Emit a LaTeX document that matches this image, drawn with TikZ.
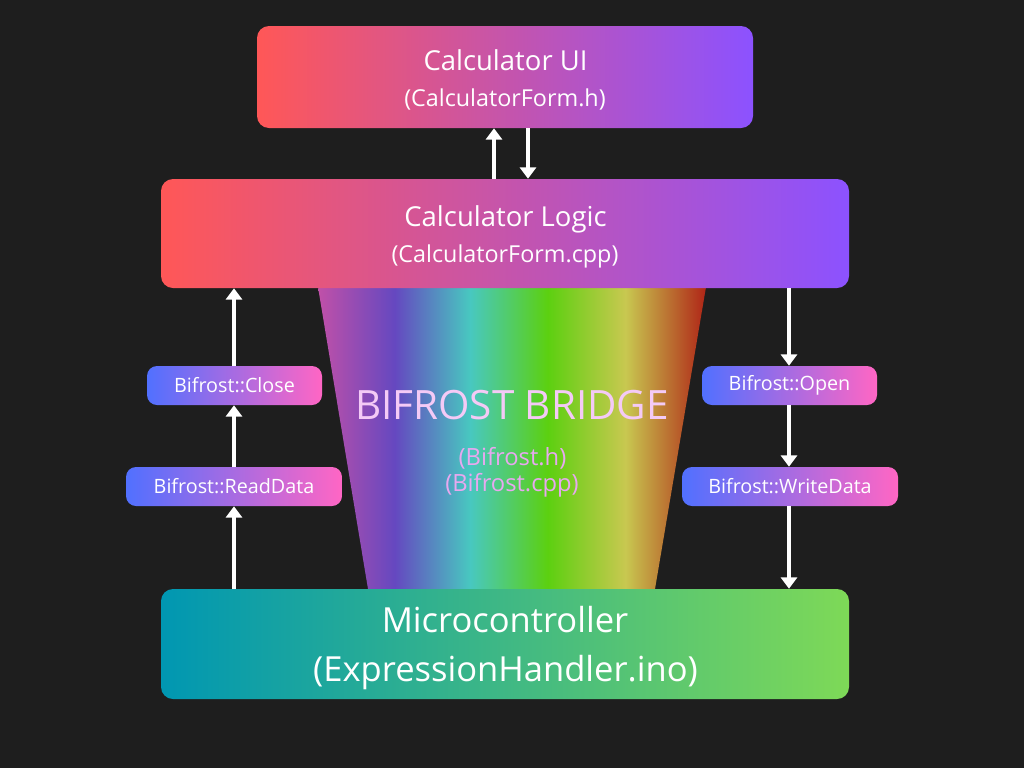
\documentclass[tikz,border=0pt]{standalone}
\usepackage{fontspec}
\setmainfont{Open Sans}
\usetikzlibrary{arrows.meta,calc}
\definecolor{bg}{HTML}{1E1E1E}
\definecolor{uiL}{HTML}{FF5757}
\definecolor{uiR}{HTML}{8C52FF}
\definecolor{sL}{HTML}{5170FF}
\definecolor{sR}{HTML}{FF66C4}
\definecolor{mL}{HTML}{0097B2}
\definecolor{mR}{HTML}{7ED957}
\definecolor{rbA}{HTML}{C050A8}
\definecolor{rbB}{HTML}{6548C0}
\definecolor{rbC}{HTML}{48C8C0}
\definecolor{rbD}{HTML}{5CD010}
\definecolor{rbE}{HTML}{C8C850}
\definecolor{rbF}{HTML}{B02818}
\definecolor{bifTitle}{HTML}{F4CAF6}
\definecolor{bifSub}{HTML}{E8A8F0}
\pgfdeclarehorizontalshading{rainbow}{100bp}{color(0bp)=(rbA); color(25bp)=(rbA); color(34.9bp)=(rbB); color(44.6bp)=(rbC); color(54.6bp)=(rbD); color(64.6bp)=(rbE); color(74.8bp)=(rbF); color(100bp)=(rbF)}
\tikzset{
  bigbox/.style={rounded corners=9pt, inner sep=0pt, draw=none},
  redbox/.style={bigbox, left color=uiL, right color=uiR},
  greenbox/.style={bigbox, left color=mL, right color=mR},
  callbox/.style={rounded corners=7.5pt, inner sep=0pt, draw=none, left color=sL, right color=sR,
    minimum height=29.25pt, text=white, font=\fontsize{14.8}{17}\selectfont},
  titletxt/.style={anchor=base, text=white, inner sep=0pt, font=\fontsize{20.6}{24}\selectfont},
  subtxt/.style={anchor=base, text=white, inner sep=0pt, font=\fontsize{17.5}{21}\selectfont},
  microtxt/.style={anchor=base, text=white, inner sep=0pt, font=\fontsize{25.9}{30}\selectfont},
  arr/.style={draw=white, line width=2.6pt, -{Triangle[width=12pt,length=8.5pt]}},
  bigtxt/.style={anchor=base, inner sep=0pt, font=\fontsize{30.3}{36}\selectfont},
  bsub/.style={anchor=base, inner sep=0pt, text=bifSub, font=\fontsize{17.8}{21}\selectfont},
}
\begin{document}
\begin{tikzpicture}[x=0.75pt, y=-0.75pt]
\fill[bg] (0,0) rectangle (1024,768);
\useasboundingbox (0,0) rectangle (1024,768);
% bridge
\shade[shading=rainbow] (318,287) -- (706,287) -- (655,589) -- (368,589) -- cycle;
% boxes
\node[redbox, minimum width=372pt, minimum height=76.5pt] (ui) at (505,77) {};
\node[redbox, minimum width=516pt, minimum height=81.75pt] (logic) at (505,233.5) {};
\node[greenbox, minimum width=516pt, minimum height=82.5pt] (micro) at (505,644) {};
\node[titletxt] (uiT) at (505.5,70.7) {Calculator UI};
\node[subtxt] (uiS) at (505,106) {(CalculatorForm.h)};
\node[titletxt] (logicT) at (505.5,226.7) {Calculator Logic};
\node[subtxt] (logicS) at (505,262) {(CalculatorForm.cpp)};
\node[microtxt] (microT) at (505,632) {Microcontroller};
\node[microtxt] (microS) at (505.5,681) {(ExpressionHandler.ino)};
% bridge text
\node[bigtxt, text=bifTitle] (bif) at (512,419) {BIFROST BRIDGE};
\node[bsub] (bifH) at (512.5,465) {(Bifrost.h)};
\node[bsub] (bifC) at (512,491) {(Bifrost.cpp)};
% call boxes
\node[callbox, minimum width=131.25pt] (close) at (234.5,385.5) {Bifrost::Close};
\node[callbox, minimum width=162pt] (read) at (234,486.5) {Bifrost::ReadData};
\node[callbox, minimum width=131.25pt] (open) at (789.5,385.5) {Bifrost::Open};
\node[callbox, minimum width=162pt] (write) at (790,486.5) {Bifrost::WriteData};
% arrow columns
\coordinate (lx) at (234,0);
\coordinate (rx) at (789,0);
\coordinate (ux) at (494,0);
\coordinate (dx) at (528,0);
\draw[arr] (logic.north -| ux) -- (ui.south -| ux);
\draw[arr] (ui.south -| dx) -- (logic.north -| dx);
\draw[arr] (micro.north -| lx) -- (read.south -| lx);
\draw[arr] (read.north -| lx) -- (close.south -| lx);
\draw[arr] (close.north -| lx) -- (logic.south -| lx);
\draw[arr] (logic.south -| rx) -- (open.north -| rx);
\draw[arr] (open.south -| rx) -- (write.north -| rx);
\draw[arr] (write.south -| rx) -- (micro.north -| rx);
\end{tikzpicture}
\end{document}
